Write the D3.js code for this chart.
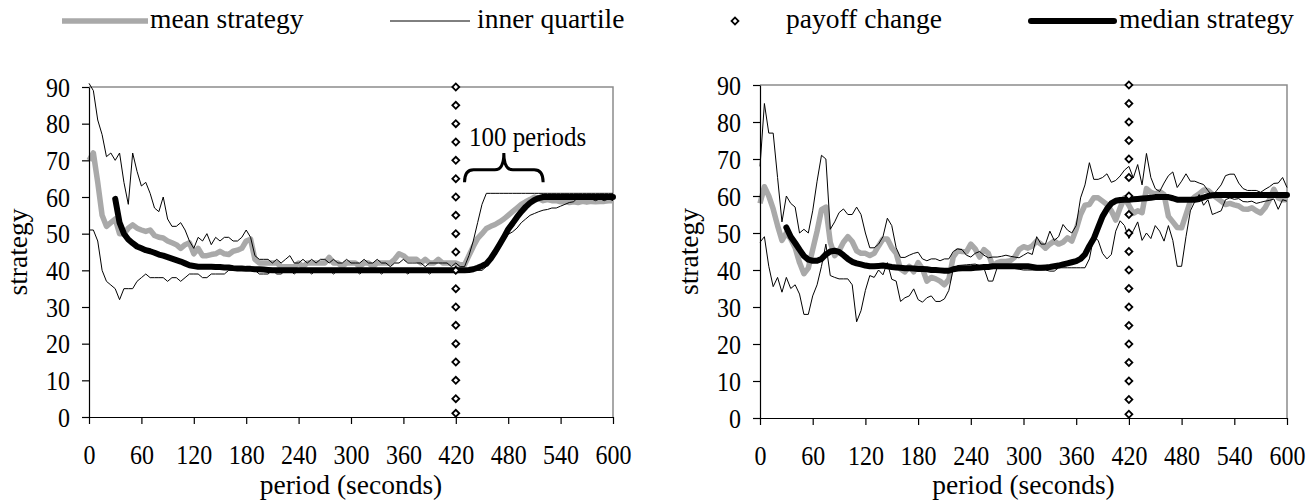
<!DOCTYPE html>
<html>
<head>
<meta charset="utf-8">
<script src="https://cdn.jsdelivr.net/npm/d3@7/dist/d3.min.js"></script>
<style>
  body { margin: 0; background: #fff; }
  text { font-family: "Liberation Serif", "Times New Roman", serif; fill: #000; }
</style>
</head>
<body>
<div id="container"></div>
<script>
// period grid (seconds), one value every 5 s
var periods = [
  0,5,10,15,20,25,30,35,40,45, 50,55,60,65,70,75,80,85,90,95,
  100,105,110,115,120,125,130,135,140,145, 150,155,160,165,170,175,180,185,190,195,
  200,205,210,215,220,225,230,235,240,245, 250,255,260,265,270,275,280,285,290,295,
  300,305,310,315,320,325,330,335,340,345, 350,355,360,365,370,375,380,385,390,395,
  400,405,410,415,420,425,430,435,440,445, 450,455,460,465,470,475,480,485,490,495,
  500,505,510,515,520,525,530,535,540,545, 550,555,560,565,570,575,580,585,590,595,
  600
];

// left panel
var leftMean = [
  70,72,64,55,52,53,54,50,50,51.5, 52.4,51.5,51,50.6,51,49.5,49,48.8,48,47.5,
  47,46,47,47.5,44.5,46,44,44,44.3,44.5, 45.2,44.5,44.3,45.2,45.5,46,48,48.5,43,42,
  42,42,42,42,41,41,41,41,42,41, 42,42,42,42,42,43.5,42,42,41,42,
  42,42,41,42,42,41,42,42,42,42, 43,44.5,44,43,43,43,42,43,42,42,
  43,42,42,42,42,41.5,41.5,44,46.5,48.7, 50,51.4,52,52.5,53.2,54,55,56,57,58,
  58.7,59.3,60,59.5,59,59.3,59,59,58.7,58.8, 58.5,58.7,58.5,58.8,58.6,58.8,58.7,58.8,58.8,59,
  59
];
var leftHigh = [
  91,89,81,77,71,72,70,72,64,58, 72,67,63,64,61,57,56,60,54,52,
  52,53,51,48,46,49,48,50,47,49, 48,49,49,48,48,49,51,49,44,43,
  43,43,42,43,42,43,44,42,42,43, 42,43,42,43,43,42,43,42,42,43,
  42,42,42,43,42,42,43,42,42,41, 42,42,43,42,42,42,42,41,42,42,
  42,42,42,41,42,41,41,44,48,53, 58,61,61,61,61,61,61,61,61,61,
  61,61,61,61,61,61,61,61,61,61, 61,61,61,61,61,61,61,61,61,61,
  61
];
var leftLow = [
  51,51,48,40,37,36,35,32,35,35, 35,37,38,39,38,38,38,38,37,38,
  38,37,38,39,39,39,38,38,39,39, 39,39,40,40,40,40,40,40,40,39,
  39,39,40,39,39,40,40,39,40,40, 40,39,40,40,40,40,39,40,40,40,
  40,40,39,40,40,40,40,39,40,40, 40,40,40,39,40,40,40,40,39,40,
  40,40,40,40,39,40,40,40,40,40, 40,41,42.5,44,46,48,49.8,50.5,51.5,53,
  54,55,55.5,56,56.4,56.6,57,57,57.5,58, 58.5,58.7,60,59.5,59.5,59.5,59,59.5,59,59.5,
  59
];
var leftMedian = [
  null,null,null,null,null,null,59.5,53,50,48.4, 47.4,46.5,46,45.5,45.2,44.8,44.3,44,43.6,43.2,
  42.8,42.4,41.9,41.4,41.2,41,41,41,41,40.9, 40.9,40.8,40.8,40.6,40.5,40.5,40.4,40.4,40.3,40.3,
  40.2,40.1,40,40,40,40,40,40,40,40, 40,40,40,40,40,40,40,40,40,40,
  40,40,40,40,40,40,40,40,40,40, 40,40,40,40,40,40,40,40,40,40,
  40,40,40,40,40,40,40,40.1,40.3,40.7, 41.2,41.8,43.2,45,47,49,51.2,52.8,54.5,56,
  57.3,58.4,59.2,59.7,60,60,60,60,60,60, 60,60,60,60,60,60,60,60,60,60,
  60
];

// right panel
var rightMean = [
  58,62.5,60,56.5,52,48,50,48.4,46,42, 39,40.5,45.5,50.5,56.3,57,47.5,43.9,45.2,47.5,
  49,47.7,45.2,44.5,44.5,43.9,44.5,46.5,48.4,48.4, 46,44.5,40.3,39.5,41,39.5,42,40.3,37,38,
  37.6,37,36,37.5,43.5,45.2,45,44.9,47,45.7, 43.5,45.5,44.5,41,42,42.3,42.3,42.5,43.5,45.5,
  46.3,45.9,46.5,47.8,47,45.9,47,47.8,47,47.5, 48.7,47.8,51,55,57.5,57.7,59.5,59.5,58.6,57.7,
  56,53.5,56.8,59.5,57.5,55.3,56,55.5,62,61, 60.5,61.2,60.4,54.5,53,51.5,51.4,55,58.6,59.8,
  60.6,61.6,61.5,60.5,59.5,58.6,57.7,58,57.6,57.3, 56.5,56.4,56.8,56,55.4,56.8,59,61.8,59.5,59,
  59
];
var rightHigh = [
  68,85,77,77,65,53,60,58,57,50, 51,50,56,64,71,70,51,53,55.5,56.5,
  55,55,57,55,50,46,46,47,49,54, 52,46,43.4,43.4,44,44.5,44.8,43,42.5,43,
  43,42.5,43,43,45,45.7,45.5,44,43.5,44.5, 45,44,43.3,43.5,43.5,43.7,44,43.7,43.5,43.3,
  44,44.7,44.2,49,47,47,50.5,48,49,52.3, 50.8,50,52,59.5,63,69,64.5,64.5,65,66,
  63.7,64.2,65.4,67,68,64.9,68.5,63,71.5,65, 62,61.2,63.5,65.5,66.5,62.3,64,66,64,64,
  63.5,63.1,61.5,60,61.5,63,65.5,65.9,65.9,63.5, 62,61.5,61.5,61.5,61,61.8,62.5,63.4,63.5,65,
  62.3
];
var rightLow = [
  47.5,49,41,35.5,38,34,38,35,36,33.5, 28,28,33,36,41,47,38.5,38,37.6,37.6,
  37.6,36,26,29,34.5,38.5,38,40,38.7,42, 37.5,37,31.5,32.5,33,34.9,32,31.3,32.5,33,
  31.5,31.5,32.2,34.5,40.3,41.2,41.3,41.4,41.5,41.6, 41.2,40.5,37,37,40.6,40.6,40.6,40.6,40.4,40.2,
  40,40,40,40,40,40,39.7,39.7,40.6,40.6, 40.6,40.6,40.6,40.6,40.6,43,49,48,44.5,43,
  44.2,50.5,53.3,52,48.5,50.6,53,48,50,48.5, 52,50.5,47.8,52,48,41,41,49,56,58.5,
  60.4,57.5,59,55,55.5,56,59,59.5,59.1,59.3, 58.5,58.4,58.6,58,58.3,58.6,58.8,59.2,56.4,59,
  58.6
];
var rightMedian = [
  null,null,null,null,null,null,51.5,49,47.3,45.5, 43.8,42.8,42.5,42.5,43,44.2,45,45.2,44.9,44,
  43,42.2,41.8,41.5,41.2,41,41,41.1,41.2,41, 40.8,40.7,40.6,40.5,40.5,40.4,40.3,40.3,40.2,40,
  40,39.9,39.8,39.8,40.2,40.4,40.5,40.5,40.5,40.6, 40.7,40.8,40.8,41,41,41,41,41,41,41,
  41,41,40.8,40.6,40.6,40.7,40.8,41,41.2,41.5, 41.8,42.1,42.4,43,44.2,46.5,48.5,51.5,54.5,56.5,
  58,58.7,58.9,59,59,59.1,59.2,59.3,59.4,59.5, 59.7,59.7,59.7,59.7,59.4,59,59,59,59,59,
  59.2,59.6,60,60.2,60.3,60.3,60.3,60.3,60.3,60.3, 60.3,60.3,60.3,60.3,60.3,60.3,60.3,60.3,60.3,60.3,
  60.3
];

// payoff change marker column
var payoffPeriod = 420;
var payoffValues = [1,5,10,15,20,25,30,35,40,45,50,55,60,65,70,75,80,85,90];

var xTicks = [0,60,120,180,240,300,360,420,480,540,600];
var yTicks = [0,10,20,30,40,50,60,70,80,90];

var legendItems = ["mean strategy", "inner quartile", "payoff change", "median strategy"];
var braceLabel = "100 periods";

var width = 1309, height = 500;
var tickFont = 24, titleFont = 27.5, stretch = 1.1;
var meanColor = "#a9a9a9";
var diamond = d3.symbol().type(d3.symbolSquare).size(24);

var svg = d3.select("#container")
            .append("svg")
            .attr("width", width)
            .attr("height", height);

var panels = [
  { left: 89,  right: 613,  top: 87, bottom: 417,
    mean: leftMean, high: leftHigh, low: leftLow, median: leftMedian, brace: true },
  { left: 760, right: 1287, top: 85, bottom: 418,
    mean: rightMean, high: rightHigh, low: rightLow, median: rightMedian, brace: false }
];

panels.forEach(function(p) {
  var x = d3.scaleLinear().domain([0, 600]).range([p.left, p.right]);
  var y = d3.scaleLinear().domain([0, 90]).range([p.bottom, p.top]);
  var g = svg.append("g");

  // plot area border (top + right, grey)
  g.append("path")
   .attr("d", "M" + x(0) + "," + y(90) + "H" + x(600) + "V" + y(0))
   .attr("fill", "none")
   .attr("stroke", "#8c8c8c")
   .attr("stroke-width", 1.5);

  var line = d3.line()
               .defined(function(d) { return d != null; })
               .x(function(d, i) { return x(periods[i]); })
               .y(function(d) { return y(d); });

  g.append("path").attr("d", line(p.mean))
   .attr("fill", "none").attr("stroke", meanColor).attr("stroke-width", 5.5)
   .attr("stroke-linejoin", "round");
  [p.low, p.high].forEach(function(s) {
    g.append("path").attr("d", line(s))
     .attr("fill", "none").attr("stroke", "#000").attr("stroke-width", 1);
  });
  g.append("path").attr("d", line(p.median))
   .attr("fill", "none").attr("stroke", "#000").attr("stroke-width", 6)
   .attr("stroke-linejoin", "round").attr("stroke-linecap", "round");

  // payoff change diamonds
  g.selectAll(".dia").data(payoffValues).enter()
   .append("path")
   .attr("d", diamond)
   .attr("transform", function(d) { return "translate(" + x(payoffPeriod) + "," + y(d) + ") rotate(45)"; })
   .attr("fill", "#fff").attr("stroke", "#000").attr("stroke-width", 1.8);

  // axes
  var xAxis = g.append("g")
               .attr("transform", "translate(0," + y(0) + ")")
               .call(d3.axisBottom(x).tickValues(xTicks).tickSize(7).tickSizeOuter(0));
  xAxis.selectAll("text")
       .attr("y", 0).attr("dy", null)
       .attr("transform", "translate(0,47) scale(1," + stretch + ")");

  var yAxis = g.append("g")
               .attr("transform", "translate(" + x(0) + ",0)")
               .call(d3.axisLeft(y).tickValues(yTicks).tickSize(7).tickSizeOuter(0));
  yAxis.selectAll("text")
       .attr("x", 0).attr("dy", "0.35em")
       .attr("transform", "translate(-19,0) scale(1," + stretch + ")");

  [xAxis, yAxis].forEach(function(a) {
    a.selectAll("text").style("font-size", tickFont + "px")
     .style("font-family", "'Liberation Serif', serif");
    a.selectAll("line, path").attr("stroke", "#000").attr("stroke-width", 1.2);
  });

  // axis titles
  g.append("text")
   .attr("transform", "translate(" + (x(0) - 62) + "," + ((y(0) + y(90)) / 2) + ") rotate(-90)")
   .attr("text-anchor", "middle")
   .style("font-size", titleFont + "px")
   .text("strategy");
  g.append("text")
   .attr("transform", "translate(" + ((x(0) + x(600)) / 2) + ",494)")
   .attr("text-anchor", "middle")
   .style("font-size", titleFont + "px")
   .text("period (seconds)");

  if (p.brace) {
    var xl = x(430), xr = x(520), xm = (xl + xr) / 2,
        yb = y(64), yh = y(67.4), yt = y(72), r = 9;
    g.append("path")
     .attr("d", "M" + xl + "," + yb + "Q" + xl + "," + yh + " " + (xl + r) + "," + yh +
                "L" + (xm - r) + "," + yh + "Q" + xm + "," + yh + " " + xm + "," + yt +
                "Q" + xm + "," + yh + " " + (xm + r) + "," + yh +
                "L" + (xr - r) + "," + yh + "Q" + xr + "," + yh + " " + xr + "," + yb)
     .attr("fill", "none").attr("stroke", "#000").attr("stroke-width", 3);
    g.append("text")
     .attr("transform", "translate(" + x(435) + "," + y(74) + ") scale(1," + stretch + ")")
     .style("font-size", "25px")
     .text(braceLabel);
  }
});

// legend
var lg = svg.append("g");
var ly = 21, lBase = 28;
lg.append("line").attr("x1", 62).attr("x2", 148).attr("y1", ly).attr("y2", ly)
  .attr("stroke", meanColor).attr("stroke-width", 5.5);
lg.append("line").attr("x1", 390).attr("x2", 470).attr("y1", ly).attr("y2", ly)
  .attr("stroke", "#000").attr("stroke-width", 1);
lg.append("path").attr("d", diamond)
  .attr("transform", "translate(735," + ly + ") rotate(45)")
  .attr("fill", "#fff").attr("stroke", "#000").attr("stroke-width", 1.8);
lg.append("line").attr("x1", 1031).attr("x2", 1114).attr("y1", ly).attr("y2", ly)
  .attr("stroke", "#000").attr("stroke-width", 6).attr("stroke-linecap", "round");

var legendX = [150, 477, 786, 1119];
lg.selectAll(".lt").data(legendItems).enter()
  .append("text")
  .attr("transform", function(d, i) { return "translate(" + legendX[i] + "," + lBase + ")"; })
  .style("font-size", titleFont + "px")
  .text(function(d) { return d; });
</script>
</body>
</html>
